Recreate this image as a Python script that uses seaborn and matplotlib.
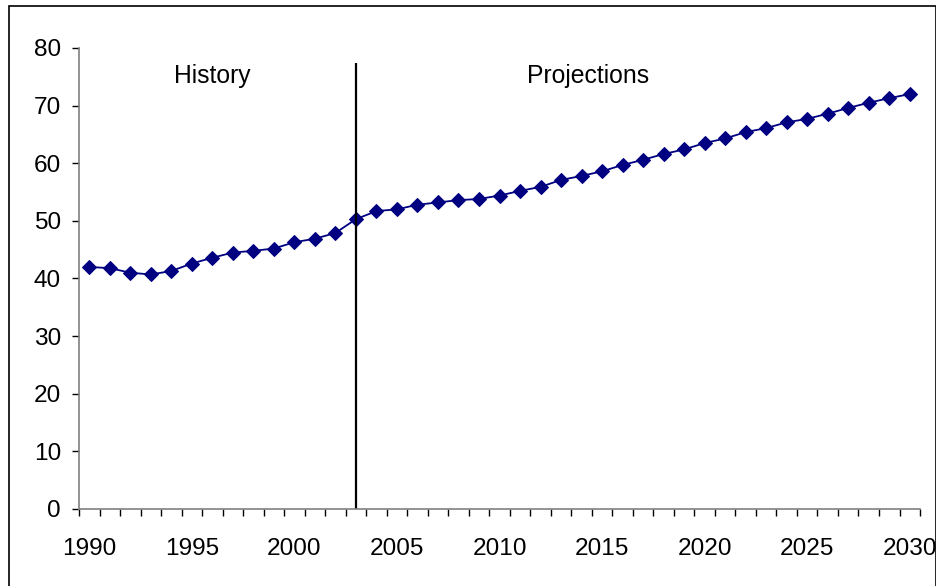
import numpy as np
import pandas as pd
import matplotlib
matplotlib.use("Agg")
import matplotlib.pyplot as plt
from matplotlib.patches import Rectangle
import seaborn as sns

# Values
years = list(range(1990, 2031))
values = [42.0, 41.8, 41.0, 40.7, 41.3, 42.6, 43.6, 44.5, 44.8, 45.2,
          46.3, 46.9, 47.9, 50.3, 51.7, 52.0, 52.8, 53.2, 53.6, 53.8,
          54.4, 55.2, 55.9, 57.1, 57.8, 58.6, 59.7, 60.6, 61.6, 62.4,
          63.5, 64.3, 65.4, 66.1, 67.1, 67.7, 68.6, 69.6, 70.5, 71.3,
          72.0]
split_year = 2003
x_labels = list(range(1990, 2031, 5))
y_ticks = list(range(0, 81, 10))

data = pd.DataFrame({"year": years, "value": values})

sns.set_style("white")
plt.rcParams["font.family"] = ["Liberation Sans", "DejaVu Sans"]
plt.rcParams["text.color"] = "black"

fig = plt.figure(figsize=(9.37, 5.86), dpi=100)
ax = fig.add_axes([0.0843, 0.1314, 0.8976, 0.7867])

sns.lineplot(data=data, x="year", y="value", ax=ax, color="#000080",
             marker="D", markersize=7.5, markeredgecolor="#000080",
             linewidth=1.3)

# history / projections divider
ax.vlines(split_year, 0, 77.4, color="black", linewidth=1.6)
ax.text(1996, 75.2, "History", ha="center", va="center", fontsize=17.8)
ax.text(2014.3, 75.2, "Projections", ha="center", va="center", fontsize=17.8)

ax.set_xlim(1989.5, 2030.5)
ax.set_ylim(0, 80)
ax.set_yticks(y_ticks)
ax.set_xticks(x_labels)
ax.set_xticks(np.arange(1989.5, 2031, 1), minor=True)
ax.tick_params(axis="x", which="major", length=0, pad=21, labelsize=17.6,
               labelcolor="black")
ax.tick_params(axis="x", which="minor", bottom=True, direction="out",
               length=5, width=1, color="black")
ax.tick_params(axis="y", which="major", left=True, direction="out",
               length=5, width=1, color="black", pad=8, labelsize=17.6,
               labelcolor="black")
ax.set_xlabel("")
ax.set_ylabel("")

for side in ["top", "right"]:
    ax.spines[side].set_visible(False)
for side in ["left", "bottom"]:
    ax.spines[side].set_color("#808080")
    ax.spines[side].set_linewidth(1.2)

# outer frame around the chart area
fig.patches.append(Rectangle((0.0096, -0.02), 0.989, 1.0098,
                             transform=fig.transFigure, fill=False,
                             edgecolor="black", linewidth=1.2))

fig.savefig("out.png", dpi=100)
